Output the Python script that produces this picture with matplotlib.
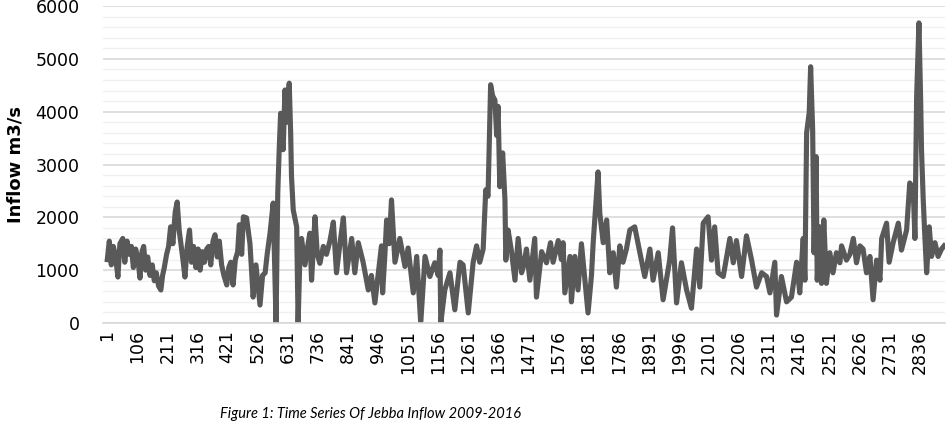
import matplotlib
matplotlib.use("Agg")
import matplotlib.pyplot as plt
from matplotlib.ticker import MultipleLocator

# ---------- Data (day index vs inflow m3/s) ----------
days = [
    1, 8, 15, 22, 30, 38, 45, 55, 62, 70, 78, 85, 92, 100, 108, 115, 122, 128,
    135, 142, 150, 158, 165, 172, 180, 188, 194, 200, 208, 215, 222, 230, 238,
    245, 252, 258, 265, 272, 280, 288, 295, 302, 310, 318, 325, 333, 340, 348,
    355, 362, 370, 377, 385, 392, 400, 408, 418, 425, 432, 440, 448, 456, 462,
    470, 476,
    487, 499, 510, 520, 534, 543, 552, 559, 569, 580, 590, 596, 601, 606, 615,
    621, 627, 636, 641, 644, 650, 662, 667, 673, 679, 691, 702, 708, 714, 726,
    734, 743, 755, 766, 778, 790, 801, 813, 825, 836, 854, 865, 877, 894, 912,
    923, 935, 947, 958,
    962, 970, 976, 985, 993, 1005, 1022, 1040, 1051, 1069, 1081, 1095, 1110,
    1127, 1144, 1156, 1162, 1165, 1179, 1197, 1214, 1232, 1243, 1261, 1278,
    1290, 1301, 1313, 1322, 1330, 1339, 1346, 1354, 1360, 1365, 1371, 1381,
    1389, 1392, 1400, 1412, 1424, 1435, 1447,
    1455, 1464, 1476, 1493, 1499, 1517, 1534, 1548, 1557, 1575, 1586, 1592,
    1598, 1616, 1621, 1633, 1644, 1656, 1668, 1679, 1691, 1697, 1709, 1714,
    1720, 1732, 1744, 1755, 1767, 1778, 1790, 1801, 1813, 1825, 1842, 1860,
    1877, 1895, 1906, 1924, 1941,
    1964, 1974, 1988, 2005, 2023, 2040, 2058, 2069, 2081, 2098, 2110, 2121,
    2133, 2151, 2174, 2186, 2197, 2215, 2232, 2250, 2267, 2285, 2302, 2314,
    2331, 2337, 2354, 2372, 2389, 2407, 2418, 2430,
    2436, 2442, 2451, 2456, 2463, 2468, 2475, 2479, 2488, 2494, 2502, 2511,
    2523, 2534, 2546, 2558, 2564, 2581, 2593, 2605, 2616, 2628, 2639, 2651,
    2663, 2674, 2686, 2698, 2704, 2721, 2730, 2744, 2762, 2773, 2791, 2802,
    2814, 2820, 2826, 2834, 2840, 2843, 2849, 2855, 2861, 2870, 2878, 2890,
    2901, 2913, 2922,
]
inflow = [
    1200, 1550, 1100, 1450, 1250, 870, 1500, 1600, 1150, 1550, 1300, 1450,
    1050, 1400, 1200, 850, 1350, 1450, 1000, 1250, 900, 1100, 800, 950, 700,
    625, 900, 1050, 1300, 1450, 1820, 1500, 2100, 2290, 1750, 1500, 1200, 870,
    1450, 1760, 1150, 1450, 1050, 1400, 1000, 1350, 1150, 1400, 1450, 1100,
    1550, 1670, 1250, 1550, 1100, 900, 720, 1050, 1150, 720, 1200, 1350, 1860,
    1300, 2010,
    1990, 1500, 490, 1100, 340, 900, 950, 1300, 1700, 2270, 0, 2460, 3280,
    3970, 3280, 4410, 3800, 4540, 3600, 2770, 2140, 1820, 0, 1200, 1600, 1100,
    1500, 1700, 810, 2010, 1300, 1130, 1450, 1300, 1550, 1910, 950, 1500, 1990,
    950, 1600, 950, 1520, 1150, 625, 900, 380, 950, 1460,
    570, 1300, 1950, 1500, 2330, 1150, 1600, 1070, 1420, 570, 1260, 0, 1260,
    880, 1140, 900, 1380, 0, 625, 950, 250, 1150, 1100, 190, 1150, 1460, 1150,
    1400, 2520, 2400, 4510, 4300, 4220, 3550, 4100, 2580, 3220, 2330, 1190,
    1760, 1350, 810, 1600, 950,
    1100, 1400, 810, 1600, 490, 1350, 1140, 1520, 1150, 1560, 1200, 1520, 570,
    1260, 400, 1260, 625, 1500, 810, 190, 900, 1520, 2460, 2860, 2080, 1520,
    1950, 950, 1330, 680, 1460, 1150, 1400, 1760, 1820, 1330, 880, 1400, 810,
    1330, 440,
    1190, 1800, 380, 1140, 625, 280, 1400, 680, 1890, 2010, 1190, 1820, 950,
    880, 1600, 1140, 1560, 880, 1650, 1190, 680, 950, 880, 570, 1150, 150, 880,
    400, 490, 1150, 570, 1600,
    810, 3600, 3980, 4850, 3660, 1330, 3150, 810, 1820, 750, 1950, 750, 1330,
    950, 1330, 1140, 1460, 1190, 1300, 1600, 1140, 1460, 1400, 950, 1260, 440,
    1190, 810, 1600, 1890, 1150, 1520, 1890, 1380, 1760, 2650, 2550, 1600,
    4280, 5680, 4220, 3280, 2330, 1600, 950, 1820, 1260, 1520, 1260, 1400,
    1460,
]
tick_days = list(range(1, 2922, 105))
y_label = "Inflow m3/s"
caption = "Figure 1: Time Series Of Jebba Inflow 2009-2016"

# ---------- Plot ----------
fig = plt.figure(figsize=(9.51, 4.24), dpi=100)
ax = fig.add_axes([103 / 951, 101 / 424, 842 / 951, 317 / 424])

ax.plot(days, inflow, color="#595959", linewidth=3.7, solid_joinstyle="round")

ax.set_ylim(0, 6000)
ax.set_xlim(-14, 2925)
ax.yaxis.set_major_locator(MultipleLocator(1000))
ax.yaxis.set_minor_locator(MultipleLocator(200))
ax.grid(which="major", axis="y", color="#d9d9d9", linewidth=1.2)
ax.grid(which="minor", axis="y", color="#f0f0f0", linewidth=1.0)
ax.set_axisbelow(True)

ax.set_xticks(tick_days)
ax.set_xticklabels([str(d) for d in tick_days], rotation=90)
ax.tick_params(axis="both", which="both", length=0, labelsize=12.5,
               colors="#000000")
ax.tick_params(axis="y", pad=17)
ax.tick_params(axis="x", pad=5)

for s in ["top", "right", "left"]:
    ax.spines[s].set_visible(False)
ax.spines["bottom"].set_color("#d9d9d9")
ax.spines["bottom"].set_linewidth(1.2)

ax.set_ylabel(y_label, fontsize=13, fontweight="bold", labelpad=8)

# caption under the chart
fig.text(370 / 951, 1 - 407 / 424, caption, fontsize=10.5, style="italic",
         family=["Lato", "DejaVu Sans"], ha="center", va="top")

fig.savefig("out.png", dpi=100)
